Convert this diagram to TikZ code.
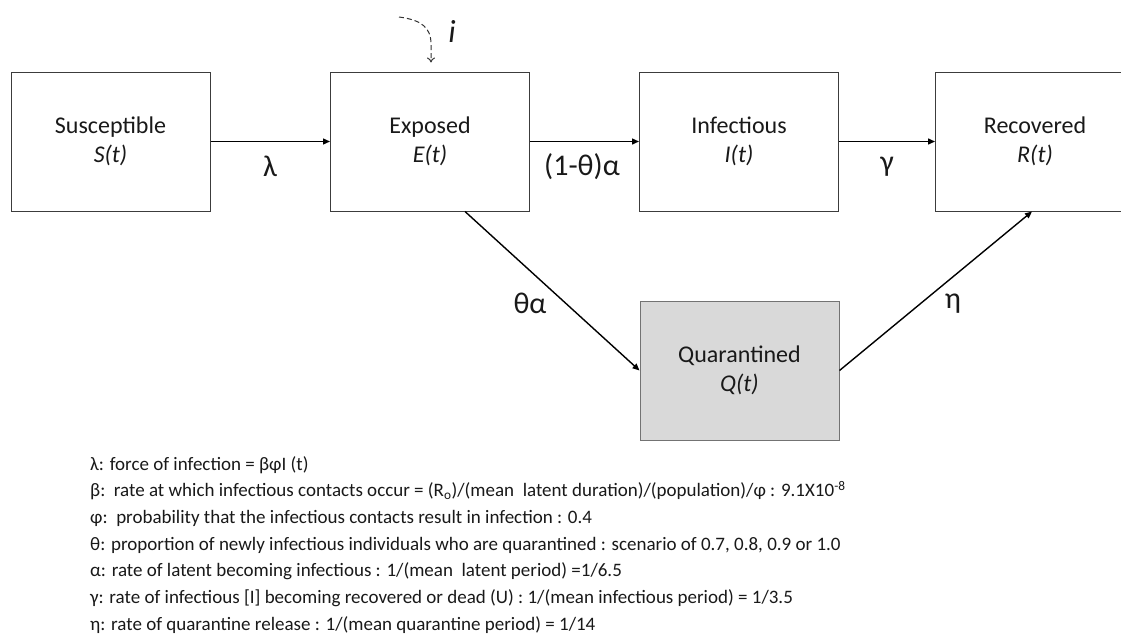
\documentclass[tikz,border=0pt]{standalone}
\usepackage{fontspec}
\setmainfont{Carlito}
\usetikzlibrary{arrows.meta}
\definecolor{qfill}{RGB}{217,217,217}
\definecolor{boxline}{RGB}{60,60,60}
\tikzset{
  box/.style={draw=boxline, line width=1pt, minimum width=199pt, minimum height=139pt,
    inner sep=0pt, align=center, font=\fontsize{24}{29}\selectfont, text=black!90},
  qbox/.style={box, fill=qfill, draw=black!55},
  arr/.style={line width=1.4pt, -{Triangle[length=7pt,width=6pt]}},
  lbl/.style={inner sep=0pt, font=\fontsize{30}{33}\selectfont, text=black!90},
  legend/.style={anchor=base west, inner sep=0pt, font=\fontsize{19}{23}\selectfont, text=black!90},
  dasharr/.style={line width=1pt, draw=black!80, dash pattern=on 5pt off 3pt, -{To[length=5pt,width=8pt]}}
}
\begin{document}
\begin{tikzpicture}[x=1pt,y=-1pt]
\clip (0,0) rectangle (1121,634);
\fill[white] (0,0) rectangle (1121,634);
% boxes
\node[box] (S) at (110.5,141.5) {Susceptible\\\textit{S(t)}};
\node[box] (E) at (430,141.5) {Exposed\\\textit{E(t)}};
\node[box] (I) at (739,141.5) {Infectious\\\textit{I(t)}};
\node[box] (R) at (1035,141.5) {Recovered\\\textit{R(t)}};
\node[qbox] (Q) at (739.5,370.5) {Quarantined\\\textit{Q(t)}};
% connectors
\draw[arr] (S) -- (E);
\draw[arr] (E) -- (I);
\draw[arr] (I) -- (R);
\draw[arr] ([xshift=35pt]E.south) -- (Q.west);
\draw[arr] (Q.east) -- ([xshift=-3pt]R.south);
% dashed import arrow
\coordinate (dstart) at (399,17);
\draw[dasharr] (dstart) .. controls (422,20) and (431,28) .. (431,44) -- ([xshift=1pt,yshift=9pt]E.north);
\node[inner sep=0pt, font=\fontsize{32}{34}\selectfont\itshape, text=black!90] (imp) at (452,31) {i};
% rate labels
\node[lbl] (lam) at (270,166) {λ};
\node[lbl] (ta) at (582,167) {(1-θ)α};
\node[lbl] (gam) at (887,167) {γ};
\node[lbl] (tha) at (530,303) {θα};
\node[lbl] (eta) at (953,304) {η};
% legend
\node[legend] (l1) at (90,470) {λ: force of infection = βφI (t)};
\node[legend] (l2) at (90,496.7) {β:\ \ rate at which infectious contacts occur = (R\textsubscript{o})/(mean\ \ latent duration)/(population)/φ : 9.1X10\textsuperscript{-8}};
\node[legend] (l3) at (90,523.3) {φ:\ \ probability that the infectious contacts result in infection : 0.4};
\node[legend] (l4) at (90,550) {θ: proportion of newly infectious individuals who are quarantined : scenario of 0.7, 0.8, 0.9 or 1.0};
\node[legend] (l5) at (90,576.7) {α: rate of latent becoming infectious : 1/(mean\ \ latent period) =1/6.5};
\node[legend] (l6) at (90,603.3) {γ: rate of infectious [I] becoming recovered or dead (U) : 1/(mean infectious period) = 1/3.5};
\node[legend] (l7) at (90,630) {η: rate of quarantine release : 1/(mean quarantine period) = 1/14};
\end{tikzpicture}
\end{document}
